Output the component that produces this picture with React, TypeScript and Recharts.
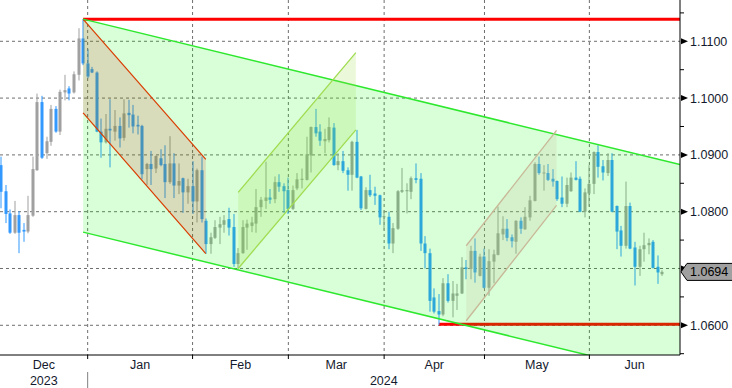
import React from 'react';
import { ComposedChart, Bar, Area, Line, XAxis, YAxis, CartesianGrid } from 'recharts';

// ---- daily candles (bar index 0..145) ----
const openP = [
  1.0882, 1.0836, 1.0797, 1.0763, 1.0794, 1.0768, 1.0765, 1.0793, 1.0873, 1.0993,
  1.0903, 1.0923, 1.0981, 1.0941, 1.1010, 1.1017, 1.1010, 1.1041, 1.1105, 1.1061,
  1.1051, 1.1045, 1.0941, 1.0922, 1.0946, 1.0941, 1.0951, 1.0930, 1.0974, 1.0971,
  1.0953, 1.0951, 1.0875, 1.0884, 1.0876, 1.0894, 1.0884, 1.0852, 1.0885, 1.0846,
  1.0859, 1.0834, 1.0845, 1.0818, 1.0873, 1.0784, 1.0743, 1.0754, 1.0772, 1.0777,
  1.0787, 1.0773, 1.0708, 1.0727, 1.0772, 1.0775, 1.0779, 1.0808, 1.0819, 1.0825,
  1.0822, 1.0852, 1.0845, 1.0838, 1.0805, 1.0841, 1.0856, 1.0856, 1.0899, 1.0949,
  1.0941, 1.0924, 1.0926, 1.0948, 1.0882, 1.0889, 1.0873, 1.0865, 1.0923, 1.0862,
  1.0805, 1.0838, 1.0832, 1.0829, 1.0791, 1.0791, 1.0744, 1.0770, 1.0835, 1.0836,
  1.0835, 1.0859, 1.0858, 1.0744, 1.0727, 1.0649, 1.0625, 1.0619, 1.0674, 1.0643,
  1.0652, 1.0656, 1.0702, 1.0699, 1.0731, 1.0687, 1.0721, 1.0666, 1.0712, 1.0724,
  1.0760, 1.0770, 1.0755, 1.0747, 1.0784, 1.0769, 1.0790, 1.0819, 1.0884, 1.0868,
  1.0868, 1.0858, 1.0854, 1.0825, 1.0814, 1.0836, 1.0860, 1.0858, 1.0800, 1.0832,
  1.0849, 1.0905, 1.0880, 1.0868, 1.0891, 1.0810, 1.0767, 1.0740, 1.0810, 1.0737,
  1.0703, 1.0734, 1.0741, 1.0747, 1.0703, 1.0690,
];
const highP = [
  1.0897, 1.0847, 1.0804, 1.0819, 1.0801, 1.0780, 1.0828, 1.0897, 1.1008, 1.1004,
  1.0932, 1.0988, 1.0986, 1.1015, 1.1041, 1.1021, 1.1047, 1.1123, 1.1139, 1.1086,
  1.1055, 1.1047, 1.0964, 1.0972, 1.0998, 1.0979, 1.0966, 1.0998, 1.0997, 1.0988,
  1.0969, 1.0953, 1.0886, 1.0907, 1.0899, 1.0910, 1.0917, 1.0933, 1.0903, 1.0885,
  1.0860, 1.0858, 1.0889, 1.0876, 1.0897, 1.0788, 1.0763, 1.0785, 1.0791, 1.0794,
  1.0807, 1.0796, 1.0736, 1.0785, 1.0786, 1.0791, 1.0840, 1.0826, 1.0888, 1.0840,
  1.0862, 1.0866, 1.0850, 1.0860, 1.0846, 1.0868, 1.0876, 1.0932, 1.0950, 1.0981,
  1.0954, 1.0946, 1.0966, 1.0956, 1.0903, 1.0907, 1.0878, 1.0925, 1.0944, 1.0863,
  1.0843, 1.0865, 1.0844, 1.0830, 1.0802, 1.0800, 1.0780, 1.0838, 1.0877, 1.0850,
  1.0862, 1.0885, 1.0868, 1.0757, 1.0735, 1.0665, 1.0655, 1.0683, 1.0690, 1.0678,
  1.0673, 1.0720, 1.0715, 1.0740, 1.0753, 1.0726, 1.0735, 1.0734, 1.0733, 1.0809,
  1.0792, 1.0787, 1.0760, 1.0785, 1.0790, 1.0808, 1.0828, 1.0887, 1.0897, 1.0882,
  1.0884, 1.0875, 1.0855, 1.0862, 1.0860, 1.0869, 1.0889, 1.0862, 1.0841, 1.0882,
  1.0906, 1.0917, 1.0891, 1.0903, 1.0903, 1.0811, 1.0775, 1.0853, 1.0816, 1.0747,
  1.0740, 1.0763, 1.0753, 1.0750, 1.0723, 1.0697,
];
const lowP = [
  1.0806, 1.0780, 1.0761, 1.0761, 1.0727, 1.0747, 1.0762, 1.0791, 1.0872, 1.0893,
  1.0893, 1.0916, 1.0939, 1.0935, 1.0996, 1.0996, 1.1008, 1.1031, 1.1058, 1.1035,
  1.1044, 1.0940, 1.0895, 1.0920, 1.0878, 1.0925, 1.0913, 1.0925, 1.0948, 1.0938,
  1.0936, 1.0857, 1.0847, 1.0847, 1.0868, 1.0880, 1.0824, 1.0849, 1.0824, 1.0831,
  1.0798, 1.0814, 1.0796, 1.0781, 1.0781, 1.0726, 1.0726, 1.0752, 1.0743, 1.0763,
  1.0758, 1.0703, 1.0699, 1.0726, 1.0733, 1.0764, 1.0763, 1.0791, 1.0805, 1.0814,
  1.0815, 1.0835, 1.0798, 1.0796, 1.0803, 1.0838, 1.0841, 1.0855, 1.0869, 1.0932,
  1.0916, 1.0903, 1.0922, 1.0881, 1.0873, 1.0868, 1.0837, 1.0837, 1.0859, 1.0803,
  1.0804, 1.0826, 1.0812, 1.0777, 1.0767, 1.0734, 1.0727, 1.0768, 1.0833, 1.0797,
  1.0822, 1.0850, 1.0731, 1.0700, 1.0624, 1.0621, 1.0601, 1.0616, 1.0640, 1.0614,
  1.0627, 1.0655, 1.0681, 1.0681, 1.0675, 1.0686, 1.0665, 1.0652, 1.0674, 1.0723,
  1.0750, 1.0748, 1.0737, 1.0726, 1.0761, 1.0768, 1.0784, 1.0818, 1.0865, 1.0837,
  1.0854, 1.0844, 1.0819, 1.0808, 1.0808, 1.0835, 1.0855, 1.0799, 1.0790, 1.0809,
  1.0831, 1.0860, 1.0855, 1.0863, 1.0799, 1.0734, 1.0721, 1.0735, 1.0734, 1.0670,
  1.0687, 1.0712, 1.0725, 1.0700, 1.0673, 1.0687,
];
const closeP = [
  1.0835, 1.0796, 1.0763, 1.0794, 1.0763, 1.0765, 1.0794, 1.0875, 1.0993, 1.0895,
  1.0924, 1.0981, 1.0941, 1.1011, 1.1014, 1.1008, 1.1042, 1.1105, 1.1061, 1.1038,
  1.1045, 1.0941, 1.0922, 1.0946, 1.0943, 1.0951, 1.0929, 1.0973, 1.0970, 1.0950,
  1.0950, 1.0866, 1.0884, 1.0875, 1.0898, 1.0882, 1.0852, 1.0885, 1.0846, 1.0854,
  1.0834, 1.0845, 1.0818, 1.0873, 1.0787, 1.0743, 1.0755, 1.0773, 1.0778, 1.0785,
  1.0772, 1.0708, 1.0727, 1.0773, 1.0779, 1.0781, 1.0808, 1.0821, 1.0825, 1.0821,
  1.0852, 1.0844, 1.0836, 1.0805, 1.0838, 1.0857, 1.0858, 1.0901, 1.0949, 1.0938,
  1.0925, 1.0928, 1.0949, 1.0882, 1.0889, 1.0872, 1.0865, 1.0923, 1.0860, 1.0806,
  1.0838, 1.0829, 1.0828, 1.0790, 1.0792, 1.0744, 1.0771, 1.0836, 1.0838, 1.0838,
  1.0859, 1.0856, 1.0744, 1.0727, 1.0643, 1.0624, 1.0619, 1.0674, 1.0643, 1.0656,
  1.0656, 1.0702, 1.0699, 1.0731, 1.0693, 1.0721, 1.0666, 1.0713, 1.0725, 1.0762,
  1.0770, 1.0754, 1.0748, 1.0784, 1.0770, 1.0791, 1.0820, 1.0884, 1.0868, 1.0869,
  1.0856, 1.0853, 1.0822, 1.0814, 1.0847, 1.0860, 1.0856, 1.0800, 1.0834, 1.0849,
  1.0905, 1.0879, 1.0869, 1.0891, 1.0800, 1.0765, 1.0740, 1.0810, 1.0735, 1.0703,
  1.0734, 1.0741, 1.0745, 1.0701, 1.0693, 1.0694,
];

// ---- axis labels ----
const monthLabels = ['Dec', 'Jan', 'Feb', 'Mar', 'Apr', 'May', 'Jun'];
const monthStarts = [19, 42, 63, 84, 106, 129]; // first bar of Jan..Jun
const yearLabels = ['2023', '2024'];
const majorTicks = [1.06, 1.07, 1.08, 1.09, 1.1, 1.11];
const minorTicks = [1.055, 1.065, 1.075, 1.085, 1.095, 1.105, 1.115];
const lastPrice = 1.0694;

const X_MIN = -0.22;
const X_MAX = 148.87;
const Y_MIN = 1.05477;
const Y_MAX = 1.11727;

// ---- drawn objects (bar index, price) ----
const resistanceIdx = [18, X_MAX];
const resistanceLevel = 1.1139;
const supportIdx = [96, X_MAX];
const supportLevel = 1.0602;

const redChIdx = [18, 44.9];
const redChUpper = [1.1139, 1.0892];
const redChLower = [1.0974, 1.0726];

const mainChIdx = [18, X_MAX];
const mainChUpper = [1.1139, 1.0883];
const mainChLower = [1.0764, 1.0508];

const upChIdx = [52, 77.8];
const upChUpper = [1.0834, 1.108];
const upChLower = [1.07, 1.0944];

const mayChIdx = [102, 121.8];
const mayChUpper = [1.074, 1.0943];
const mayChLower = [1.0608, 1.0811];

const candles = openP.map((o, i) => ({
  i,
  o,
  h: highP[i],
  l: lowP[i],
  c: closeP[i],
  range: [lowP[i], highP[i]],
}));

const channel = (idx: number[], lo: number[], hi: number[]) =>
  idx.map((i, k) => ({ i, r: [lo[k], hi[k]] }));
const hline = (idx: number[], v: number) => idx.map((i) => ({ i, v }));

// ---- x ticks: month boundaries, month label centers, year label centers ----
const key = (v: number) => v.toFixed(3);
type Info = { boundary?: boolean; sep?: boolean; month?: string; year?: string };
const xInfo = new Map<string, Info>();
const addInfo = (v: number, patch: Info) => {
  const k = key(v);
  xInfo.set(k, { ...(xInfo.get(k) || {}), ...patch });
};
const bounds = [X_MIN, ...monthStarts, X_MAX];
monthStarts.forEach((v, k) => addInfo(v, { boundary: true, sep: k === 0 }));
monthLabels.forEach((m, k) => addInfo((bounds[k] + bounds[k + 1]) / 2, { month: m }));
const yearBounds = [X_MIN, monthStarts[0], X_MAX];
yearLabels.forEach((y, k) => addInfo((yearBounds[k] + yearBounds[k + 1]) / 2, { year: y }));
const xTicks = Array.from(xInfo.keys()).map(Number).sort((a, b) => a - b);
// current-price tag last so it is painted on top of the regular ticks
const yTicks = [...[...minorTicks, ...majorTicks].sort((a, b) => a - b), lastPrice];

const FONT = "'Liberation Sans', Arial, sans-serif";
const TEXT_COLOR = '#141a2e';

const XTick = (props: any) => {
  const { x, y, payload } = props;
  const info = xInfo.get(key(payload.value)) || {};
  return (
    <g>
      {info.boundary && <line x1={x} x2={x} y1={y} y2={y + 4} stroke="#000" />}
      {info.sep && <line x1={x} x2={x} y1={y + 17} y2={y + 33} stroke="#808080" />}
      {info.month && (
        <text x={x} y={y + 14} textAnchor="middle" fontFamily={FONT} fontSize={12.5} fill={TEXT_COLOR}>
          {info.month}
        </text>
      )}
      {info.year && (
        <text x={x} y={y + 30} textAnchor="middle" fontFamily={FONT} fontSize={12.5} fill={TEXT_COLOR}>
          {info.year}
        </text>
      )}
    </g>
  );
};

const YTick = (props: any) => {
  const { x, y, payload } = props;
  const v: number = payload.value;
  if (Math.abs(v - lastPrice) < 1e-9) {
    return (
      <g>
        <polygon
          points={`${x + 1},${y} ${x + 7},${y - 8.5} ${x + 60},${y - 8.5} ${x + 60},${y + 8.5} ${x + 7},${y + 8.5}`}
          fill="#a0a0a0"
          stroke="#000"
        />
        <text x={x + 10} y={y + 4.5} fontFamily={FONT} fontSize={12.5} fill="#000">
          {v.toFixed(4)}
        </text>
      </g>
    );
  }
  if (majorTicks.some((m) => Math.abs(m - v) < 1e-9)) {
    // a major label lying under the price tag is hidden by it
    const hidden = Math.abs(v - lastPrice) < 0.0025;
    return (
      <g>
        <polygon points={`${x + 1},${y - 3} ${x + 8},${y} ${x + 1},${y + 3}`} fill="#000" />
        {!hidden && (
          <text x={x + 10} y={y + 4.5} fontFamily={FONT} fontSize={12.5} fill={TEXT_COLOR}>
            {v.toFixed(4)}
          </text>
        )}
      </g>
    );
  }
  return <line x1={x} x2={x + 4} y1={y} y2={y} stroke="#000" />;
};

const Candle = (props: any) => {
  const { x, y, width, height, payload } = props;
  if (!payload || height == null) return null;
  const cx = Math.round(x + width / 2) - 0.5;
  const top = Math.min(y, y + height);
  const h = Math.abs(height);
  const { o, c, h: hi, l: lo } = payload;
  const py = (p: number) => top + ((hi - p) / (hi - lo)) * h;
  const up = c >= o;
  const color = up ? '#a0a0a0' : '#3399ff';
  const bt = py(Math.max(o, c));
  const bb = py(Math.min(o, c));
  return (
    <g>
      <rect x={cx} y={top} width={1} height={h} fill={color} />
      <rect x={cx - 1} y={bt} width={3} height={Math.max(1, bb - bt)} fill={color} />
    </g>
  );
};

export default function App() {
  return (
    <div style={{ position: 'absolute', left: 0, top: 0, width: 732, height: 388, background: '#fff' }}>
      <ComposedChart width={732} height={388} data={candles} margin={{ top: 0, right: 0, bottom: 0, left: 0 }}>
        <CartesianGrid
          stroke="#6e6e6e"
          strokeDasharray="3 3"
          horizontalValues={majorTicks}
          verticalValues={monthStarts}
        />
        <XAxis
          dataKey="i"
          type="number"
          domain={[X_MIN, X_MAX]}
          allowDataOverflow
          ticks={xTicks}
          interval={0}
          tickLine={false}
          tickSize={0}
          tickMargin={0}
          height={33}
          axisLine={{ stroke: '#000' }}
          tick={<XTick />}
        />
        <YAxis
          orientation="right"
          type="number"
          domain={[Y_MIN, Y_MAX]}
          allowDataOverflow
          ticks={yTicks}
          interval={0}
          width={52}
          tickLine={false}
          tickSize={0}
          tickMargin={0}
          axisLine={{ stroke: '#000' }}
          tick={<YTick />}
        />
        <Line data={hline(resistanceIdx, resistanceLevel)} dataKey="v" stroke="#ff0000" strokeWidth={3} dot={false} activeDot={false} isAnimationActive={false} zIndex={110} />
        <Line data={hline(supportIdx, supportLevel)} dataKey="v" stroke="#ff0000" strokeWidth={3} dot={false} activeDot={false} isAnimationActive={false} zIndex={110} />
        <Bar dataKey="range" barSize={3} shape={(p: any) => <Candle {...p} />} isAnimationActive={false} zIndex={120} />
        <Area
          data={channel(redChIdx, redChLower, redChUpper)}
          dataKey="r"
          type="linear"
          stroke="#ff1a00"
          strokeWidth={1.2}
          fill="#ff0026"
          fillOpacity={0.16}
          dot={false}
          activeDot={false}
          isAnimationActive={false}
          zIndex={130}
        />
        <Area
          data={channel(mainChIdx, mainChLower, mainChUpper)}
          dataKey="r"
          type="linear"
          stroke="#2ee82e"
          strokeWidth={1.5}
          fill="#00ff00"
          fillOpacity={0.15}
          dot={false}
          activeDot={false}
          isAnimationActive={false}
          zIndex={140}
        />
        <Area
          data={channel(upChIdx, upChLower, upChUpper)}
          dataKey="r"
          type="linear"
          stroke="#a0dc50"
          strokeWidth={1.3}
          fill="#99dd44"
          fillOpacity={0.2}
          dot={false}
          activeDot={false}
          isAnimationActive={false}
          zIndex={150}
        />
        <Area
          data={channel(mayChIdx, mayChLower, mayChUpper)}
          dataKey="r"
          type="linear"
          stroke="#c8b898"
          strokeWidth={1.3}
          fill="#c8b898"
          fillOpacity={0.2}
          dot={false}
          activeDot={false}
          isAnimationActive={false}
          zIndex={160}
        />
      </ComposedChart>
    </div>
  );
}
